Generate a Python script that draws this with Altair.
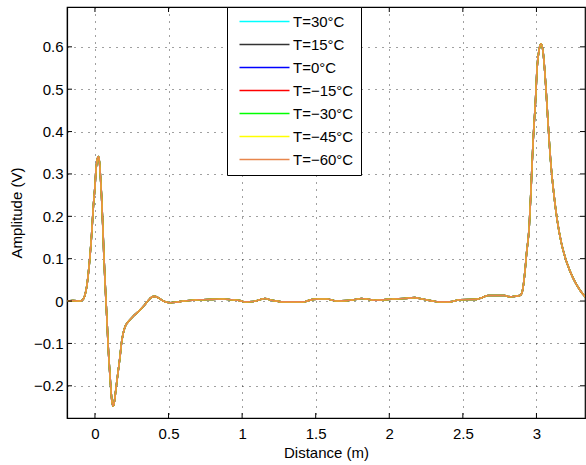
import altair as alt
import pandas as pd

# Reflected pulse amplitude versus distance, one trace per temperature
distance = [
    -0.19, -0.15, -0.10, -0.085, -0.07, -0.056, -0.045, -0.034, -0.022, -0.011,
    0.0, 0.007, 0.016, 0.023, 0.03, 0.038, 0.045, 0.053, 0.061, 0.068,
    0.075, 0.083, 0.09, 0.099, 0.107, 0.115, 0.124, 0.133, 0.14, 0.147,
    0.158, 0.17, 0.18, 0.192, 0.208, 0.226, 0.26, 0.306, 0.34, 0.374,
    0.40, 0.43, 0.464, 0.51, 0.55, 0.60, 0.66, 0.713, 0.80, 0.872,
    0.93, 0.985, 1.019, 1.076, 1.12, 1.155, 1.20, 1.234, 1.279, 1.35,
    1.415, 1.45, 1.483, 1.53, 1.574, 1.642, 1.71, 1.76, 1.812, 1.86,
    1.902, 1.96, 2.027, 2.10, 2.174, 2.208, 2.28, 2.344, 2.412, 2.48,
    2.593, 2.63, 2.672, 2.72, 2.785, 2.819, 2.85, 2.887, 2.90, 2.91,
    2.922, 2.933, 2.951, 2.962, 2.97, 2.978, 2.994, 3.005, 3.018, 3.032,
    3.046, 3.055, 3.064, 3.079, 3.096, 3.107, 3.118, 3.141, 3.17, 3.208,
    3.249, 3.295, 3.336,
]
amplitude = [
    0.000, 0.001, 0.000, 0.002, 0.012, 0.034, 0.065, 0.105, 0.160, 0.223,
    0.270, 0.309, 0.335, 0.341, 0.330, 0.290, 0.246, 0.180, 0.105, 0.050,
    0.000, -0.055, -0.108, -0.160, -0.202, -0.235, -0.248, -0.235, -0.215, -0.195,
    -0.165, -0.132, -0.100, -0.076, -0.058, -0.049, -0.036, -0.021, -0.008, 0.006,
    0.011, 0.008, 0.000, -0.004, -0.003, 0.000, 0.002, 0.003, 0.004, 0.005,
    0.003, 0.001, -0.002, -0.001, 0.003, 0.006, 0.002, 0.000, -0.002, -0.002,
    -0.002, 0.001, 0.004, 0.005, 0.005, 0.000, 0.001, 0.003, 0.006, 0.004,
    0.002, 0.003, 0.005, 0.006, 0.008, 0.006, 0.001, -0.002, -0.002, 0.003,
    0.004, 0.008, 0.013, 0.013, 0.013, 0.010, 0.011, 0.013, 0.018, 0.034,
    0.070, 0.113, 0.176, 0.254, 0.320, 0.380, 0.475, 0.553, 0.593, 0.607,
    0.585, 0.550, 0.506, 0.420, 0.333, 0.290, 0.254, 0.191, 0.136, 0.089,
    0.054, 0.026, 0.008,
]

series = ["T=30°C", "T=15°C", "T=0°C", "T=−15°C", "T=−30°C", "T=−45°C", "T=−60°C"]
colors = ["#00FFFF", "#333333", "#0000FF", "#FF0000", "#00FF00", "#FFFF00", "#E8864C"]

x_ticks = [0, 0.5, 1, 1.5, 2, 2.5, 3]
y_ticks = [-0.2, -0.1, 0, 0.1, 0.2, 0.3, 0.4, 0.5, 0.6]

W, H = 518, 411
FONT = "Liberation Sans"

rows = []
for i, s in enumerate(series):
    for d, a in zip(distance, amplitude):
        rows.append({"distance": d, "amplitude": a, "series": s, "order": i})
df = pd.DataFrame(rows)

x_scale = alt.Scale(domain=[-0.19, 3.33], nice=False, zero=False)
y_scale = alt.Scale(domain=[-0.276, 0.694], nice=False, zero=False)

x_axis = alt.Axis(
    values=x_ticks, format="~g", title="Distance (m)", grid=True,
    gridDash=[1, 6], gridColor="#000000", gridOpacity=0.75,
    ticks=False, tickSize=0, labelPadding=8, titlePadding=4,
)
y_axis = alt.Axis(
    values=y_ticks, format="~g", title="Amplitude (V)", grid=True,
    gridDash=[1, 6], gridColor="#000000", gridOpacity=0.75,
    ticks=False, tickSize=0, labelPadding=4, titlePadding=9,
)

lines = alt.Chart(df).mark_line(strokeWidth=1.6, interpolate="monotone", clip=True).encode(
    x=alt.X("distance:Q", scale=x_scale, axis=x_axis),
    y=alt.Y("amplitude:Q", scale=y_scale, axis=y_axis),
    color=alt.Color(
        "series:N",
        scale=alt.Scale(domain=series, range=colors),
        sort=series,
        legend=alt.Legend(
            title=None, orient="none", legendX=160, legendY=0,
            padding=7, rowPadding=7, fillColor="white", strokeColor="black",
            symbolType="M-0.4,0H9.6", symbolSize=100, symbolStrokeWidth=1.3,
            labelFontSize=15, labelFont=FONT, labelOffset=44, labelColor="black",
        ),
    ),
    order=alt.Order("order:Q"),
)

# Inward tick marks on all four sides of the frame (share the main scales/axes)
xt = pd.DataFrame({"distance": x_ticks})
yt = pd.DataFrame({"amplitude": y_ticks})
tick_x_bottom = alt.Chart(xt).mark_rule(color="black").encode(
    x=alt.X("distance:Q", scale=x_scale, axis=x_axis), y=alt.value(H), y2=alt.value(H - 5))
tick_x_top = alt.Chart(xt).mark_rule(color="black").encode(
    x=alt.X("distance:Q", scale=x_scale, axis=x_axis), y=alt.value(0), y2=alt.value(5))
tick_y_left = alt.Chart(yt).mark_rule(color="black").encode(
    y=alt.Y("amplitude:Q", scale=y_scale, axis=y_axis), x=alt.value(0), x2=alt.value(5))
tick_y_right = alt.Chart(yt).mark_rule(color="black").encode(
    y=alt.Y("amplitude:Q", scale=y_scale, axis=y_axis), x=alt.value(W), x2=alt.value(W - 5))

chart = alt.layer(lines, tick_x_bottom, tick_x_top, tick_y_left, tick_y_right).properties(
    width=W, height=H,
    autosize=alt.AutoSizeParams(type="none"),
    padding={"left": 67, "top": 7, "right": 1, "bottom": 47},
    background="white",
).configure_view(
    stroke="black", strokeWidth=1.2,
).configure_axis(
    labelFont=FONT, titleFont=FONT, labelFontSize=15, titleFontSize=15,
    titleFontWeight="normal", labelColor="black", titleColor="black",
    domainColor="black", domainWidth=1.2,
)

chart.save("out.html", embed_options={"renderer": "svg", "actions": False})
